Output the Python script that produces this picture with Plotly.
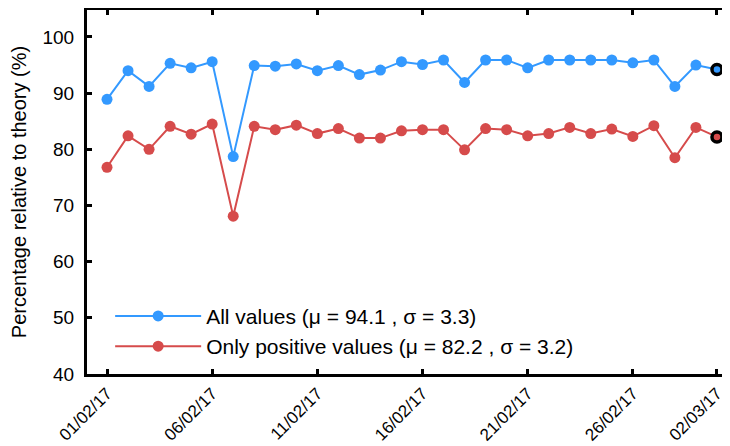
import plotly.graph_objects as go

dates = ["2017-02-01", "2017-02-02", "2017-02-03", "2017-02-04", "2017-02-05",
         "2017-02-06", "2017-02-07", "2017-02-08", "2017-02-09", "2017-02-10",
         "2017-02-11", "2017-02-12", "2017-02-13", "2017-02-14", "2017-02-15",
         "2017-02-16", "2017-02-17", "2017-02-18", "2017-02-19", "2017-02-20",
         "2017-02-21", "2017-02-22", "2017-02-23", "2017-02-24", "2017-02-25",
         "2017-02-26", "2017-02-27", "2017-02-28", "2017-03-01", "2017-03-02"]

all_values = [88.9, 94.0, 91.2, 95.3, 94.5, 95.6, 78.7, 94.9, 94.8, 95.2,
              94.0, 94.9, 93.3, 94.1, 95.6, 95.1, 95.9, 91.9, 95.9, 95.9,
              94.5, 95.9, 95.9, 95.9, 95.9, 95.4, 95.9, 91.2, 95.0, 94.2]

positive_values = [76.8, 82.4, 80.0, 84.1, 82.7, 84.5, 68.1, 84.1, 83.5, 84.3,
                   82.8, 83.7, 82.0, 82.0, 83.3, 83.5, 83.5, 79.9, 83.7, 83.5,
                   82.4, 82.8, 83.9, 82.8, 83.6, 82.3, 84.2, 78.5, 83.9, 82.2]

names = ["All values (\u03bc = 94.1 , \u03c3 = 3.3)",
         "Only positive values (\u03bc = 82.2 , \u03c3 = 3.2)"]

tick_dates = ["2017-02-01", "2017-02-06", "2017-02-11", "2017-02-16",
              "2017-02-21", "2017-02-26", "2017-03-02"]
tick_labels = ["01/02/17", "06/02/17", "11/02/17", "16/02/17",
               "21/02/17", "26/02/17", "02/03/17"]

y_ticks = [40, 50, 60, 70, 80, 90, 100]

blue = "#3399FF"
red = "#D64B4B"
font_family = "Liberation Sans, Arial, Helvetica, sans-serif"

fig = go.Figure()
for vals, col, name in [(all_values, blue, names[0]), (positive_values, red, names[1])]:
    fig.add_trace(go.Scatter(
        x=dates, y=vals, mode="lines+markers", name=name,
        line=dict(color=col, width=2),
        marker=dict(color=col, size=11),
        cliponaxis=False,
    ))
for vals, col in [(all_values, blue), (positive_values, red)]:
    fig.add_trace(go.Scatter(
        x=dates[-1:], y=vals[-1:], mode="markers", showlegend=False,
        marker=dict(color=col, size=10, line=dict(color="black", width=3.5)),
        cliponaxis=False,
    ))

# page body has an 8px margin: figure is sized so it ends at the window edge
fig.update_layout(
    width=722, height=438,
    margin=dict(l=79, r=0, t=2, b=72, autoexpand=False),
    paper_bgcolor="white", plot_bgcolor="white",
    font=dict(family=font_family, color="black", size=18),
    legend=dict(
        x=0.036, y=0.215, xanchor="left", yanchor="top",
        bgcolor="rgba(0,0,0,0)", font=dict(size=21),
        itemwidth=86, tracegroupgap=0,
    ),
    xaxis=dict(
        type="date", automargin=False,
        range=["2017-01-31 01:10", "2017-03-02 14:53"],
        tickvals=tick_dates, ticktext=tick_labels, tickangle=-45,
        showgrid=False, zeroline=False,
        showline=True, linecolor="black", linewidth=3, mirror="ticks",
        ticks="inside", ticklen=5, tickwidth=2.5, tickcolor="black",
        tickfont=dict(size=17),
    ),
    yaxis=dict(
        range=[40, 104.8], automargin=False,
        tickvals=y_ticks,
        showgrid=False, zeroline=False,
        showline=True, linecolor="black", linewidth=3, mirror=False,
        ticks="inside", ticklen=5, tickwidth=2.5, tickcolor="black",
        tickfont=dict(size=19), ticklabelstandoff=6,
        title=dict(text="Percentage relative to theory (%)", font=dict(size=20), standoff=12),
    ),
)

fig.write_html("out.html")
